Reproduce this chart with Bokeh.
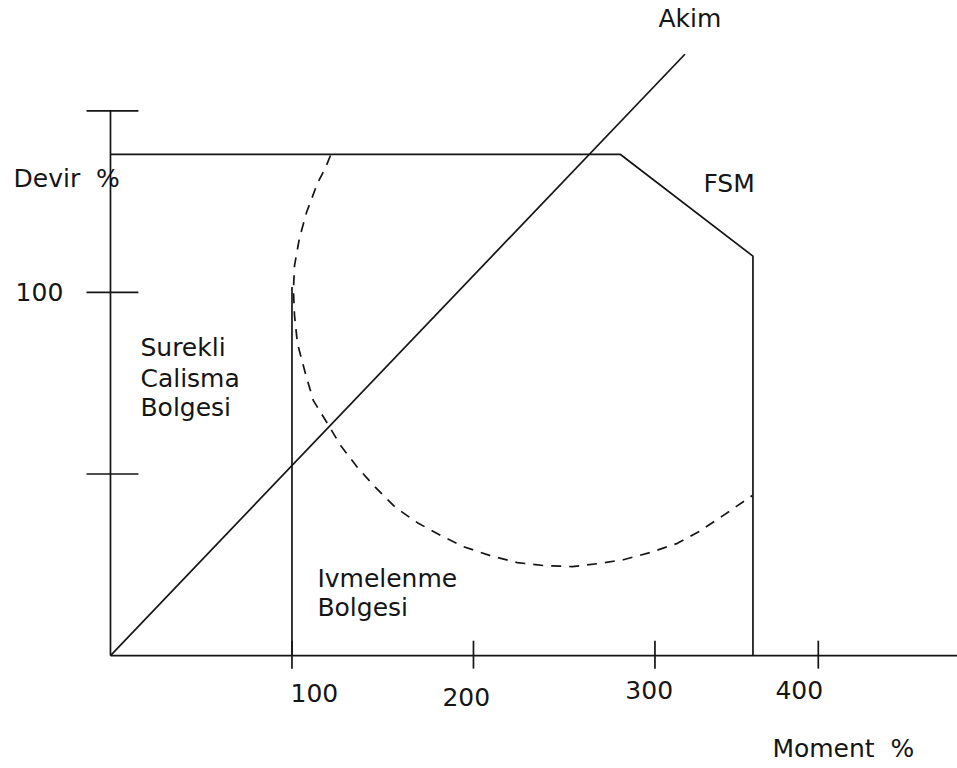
from bokeh.plotting import figure
from bokeh.models import Range1d
from bokeh.core.properties import value
from bokeh.embed import file_html
from bokeh.resources import INLINE

# ---- data (Moment % on x, Devir % on y) ----
fsm_x = [0, 281, 354, 354]
fsm_y = [138, 138, 110, 0]

akim_x = [0, 316.5]
akim_y = [0, 165.6]

ivme_x = [100, 100]
ivme_y = [0, 101.5]

curve_x = [121.2, 118.5, 114.0, 108.0, 104.1, 101.4, 100.8, 101.4, 103.0, 107.4,
           111.8, 119.6, 126.7, 136.1, 146.0, 157.0, 169.1, 181.8, 194.5, 209.4,
           224.2, 238.6, 254.5, 268.3, 282.6, 297.5, 312.4, 325.1, 337.7, 353.7]
curve_y = [137.7, 134.4, 130.0, 122.0, 114.9, 107.4, 100.6, 93.7, 86.0, 77.7,
           70.2, 63.9, 57.9, 51.8, 46.3, 40.8, 36.6, 33.1, 30.0, 27.5,
           25.6, 24.8, 24.5, 25.3, 26.4, 28.4, 30.9, 34.4, 38.6, 44.1]

xtick_pos = [100, 200, 300, 390]
xtick_labels = ["100", "200", "300", "400"]
xlabel_x = [99.2, 182.9, 283.7, 366.4]
xlabel_y = [-10.4, -11.5, -9.6, -9.6]

ytick_pos = [50, 100, 150]
ylabel_text = ["100"]
ylabel_x = [-52.3]
ylabel_y = [100.0]

NB = "\u00a0"
label_text = ["Akim", "FSM", "Devir" + NB + NB + "%", "Surekli", "Calisma", "Bolgesi",
              "Ivmelenme", "Bolgesi", "Moment" + NB + NB + "%"]
label_x = [301.9, 326.7, -53.4, 16.5, 16.5, 16.5, 114.0, 114.0, 364.7]
label_y = [175.4, 130.0, 131.3, 84.9, 76.4, 68.4, 21.3, 13.3, -25.6]

INK = "#151515"
LW = 1.7

p = figure(width=957, height=768, output_backend="svg", toolbar_location=None,
           x_range=Range1d(-60.6, 466.7), y_range=Range1d(-31.1, 180.4),
           min_border=0)
p.xaxis.visible = False
p.yaxis.visible = False
p.xgrid.visible = False
p.ygrid.visible = False
p.outline_line_color = None
p.background_fill_color = "white"
p.border_fill_color = "white"

# axes drawn as lines
p.line([0, 470], [0, 0], line_color=INK, line_width=LW)
p.line([0, 0], [0, ytick_pos[-1]], line_color=INK, line_width=LW)
p.segment(x0=xtick_pos, y0=[4.1] * len(xtick_pos), x1=xtick_pos, y1=[-3.6] * len(xtick_pos),
          line_color=INK, line_width=LW)
p.segment(x0=[-13.2] * len(ytick_pos), y0=ytick_pos, x1=[15.4] * len(ytick_pos), y1=ytick_pos,
          line_color=INK, line_width=LW)

# curves
p.line(fsm_x, fsm_y, line_color=INK, line_width=LW)
p.line(akim_x, akim_y, line_color=INK, line_width=LW)
p.line(ivme_x, ivme_y, line_color=INK, line_width=LW)
p.line(curve_x, curve_y, line_color=INK, line_width=LW, line_dash="10 8")

FONT = value("DejaVu Sans")
FS = "25px"
p.text(x=xlabel_x, y=xlabel_y, text=xtick_labels, text_font=FONT, text_font_size=FS,
       text_color=INK, text_baseline="alphabetic", text_align="left")
p.text(x=ylabel_x, y=ylabel_y, text=ylabel_text, text_font=FONT, text_font_size=FS,
       text_color=INK, text_baseline="alphabetic", text_align="left")
p.text(x=label_x, y=label_y, text=label_text, text_font=FONT, text_font_size=FS,
       text_color=INK, text_baseline="alphabetic", text_align="left")

open("out.html", "w").write(file_html(p, INLINE))
